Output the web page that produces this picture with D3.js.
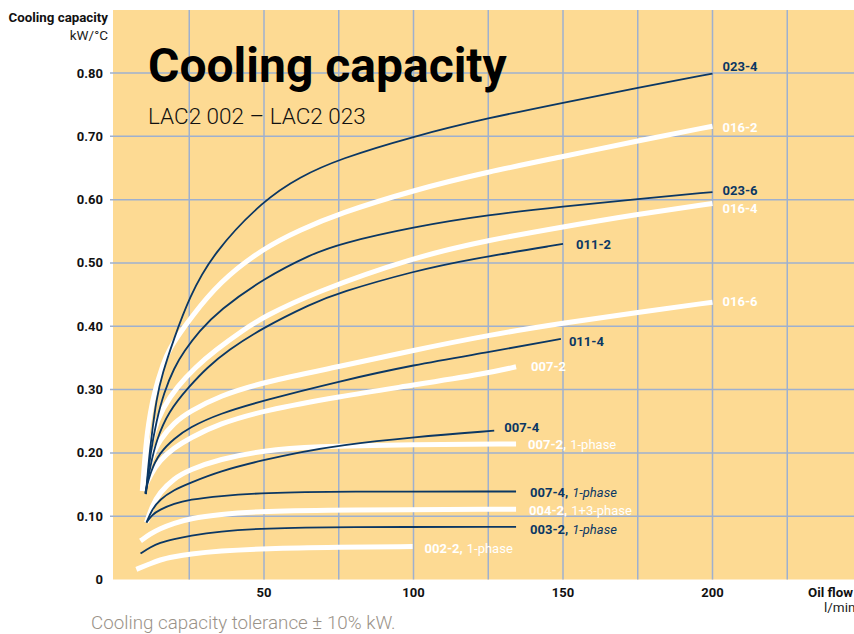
<!DOCTYPE html>
<html>
<head>
<meta charset="utf-8">
<script src="https://cdn.jsdelivr.net/npm/d3@7"></script>
<style>
  body { margin: 0; background: #fff; }
  svg { display: block; font-family: Roboto, "Noto Sans", sans-serif; }
  .tick-lbl { font-size: 13px; font-weight: 700; fill: #111; }
</style>
</head>
<body>
<svg id="chart" width="854" height="634"></svg>
<script>
(function() {

	// DATA (flow l/min, capacity kW/°C)
	var c023_4 = [[10.5,0.135],[11.5,0.19],[12.5,0.23],[14,0.285],[16,0.325],[19.7,0.378],[25,0.446],[33,0.516],[50,0.60],[62,0.636],[75,0.664],[100,0.70],[125,0.729],[150,0.753],[175,0.777],[200,0.799]];
	var c016_2 = [[9.3,0.14],[10,0.185],[11,0.235],[12,0.263],[13,0.29],[16.3,0.342],[18.6,0.366],[22,0.39],[25,0.41],[35,0.47],[50,0.524],[62,0.552],[75,0.578],[100,0.615],[125,0.644],[150,0.668],[175,0.693],[200,0.716]];
	var c023_6 = [[10.5,0.135],[12,0.2],[14,0.25],[16.5,0.295],[20,0.335],[23.2,0.36],[28.3,0.392],[35,0.425],[50,0.476],[66,0.514],[75,0.53],[100,0.557],[125,0.576],[150,0.589],[175,0.601],[200,0.612]];
	var c016_4 = [[9.5,0.14],[11,0.19],[13,0.235],[16,0.27],[21,0.305],[27,0.335],[33.7,0.362],[43,0.394],[50,0.415],[66,0.452],[100,0.509],[125,0.536],[150,0.557],[175,0.577],[200,0.594]];
	var c011_2 = [[10.3,0.135],[12,0.18],[14,0.22],[18,0.265],[25,0.305],[31,0.335],[38,0.362],[49,0.396],[66,0.436],[75,0.453],[100,0.487],[119,0.506],[150,0.53]];
	var c016_6 = [[9.5,0.14],[12,0.19],[15,0.22],[20,0.248],[25,0.265],[35,0.29],[50,0.312],[75,0.336],[100,0.362],[125,0.386],[150,0.405],[175,0.422],[200,0.438]];
	var c011_4 = [[10.3,0.137],[12,0.17],[15,0.2],[20,0.223],[25,0.24],[35,0.262],[50,0.283],[75,0.313],[100,0.339],[125,0.359],[149.3,0.38]];
	var c007_2 = [[9.5,0.14],[12,0.165],[15,0.188],[20,0.208],[25,0.223],[35,0.246],[50,0.267],[75,0.289],[100,0.307],[125,0.326],[134.3,0.336]];
	var c007_2p = [[10.7,0.09],[12.5,0.115],[15,0.137],[20,0.16],[25,0.173],[35,0.19],[50,0.204],[66,0.21],[100,0.213],[134.3,0.214]];
	var c007_4 = [[10.7,0.09],[12.5,0.11],[15,0.126],[20,0.142],[25,0.152],[35,0.171],[50,0.189],[62,0.201],[75,0.212],[100,0.225],[127,0.235]];
	var c007_4p = [[10.7,0.09],[12.5,0.102],[15,0.11],[20,0.12],[25,0.126],[35,0.132],[50,0.137],[75,0.139],[134.3,0.139]];
	var c004_2 = [[8.7,0.061],[12,0.072],[15,0.08],[20,0.089],[25,0.096],[35,0.103],[50,0.108],[75,0.11],[134.3,0.111]];
	var c003_2 = [[8.7,0.041],[12,0.051],[15,0.058],[20,0.064],[25,0.069],[35,0.076],[50,0.081],[75,0.083],[134.3,0.083]];
	var c002_2 = [[7.3,0.016],[12,0.025],[15,0.031],[20,0.036],[25,0.04],[35,0.045],[50,0.049],[75,0.051],[99.7,0.052]];

	var series = [
		{ name: '023-4', note: '', color: 'navy', values: c023_4 },
		{ name: '016-2', note: '', color: 'white', values: c016_2 },
		{ name: '023-6', note: '', color: 'navy', values: c023_6 },
		{ name: '016-4', note: '', color: 'white', values: c016_4 },
		{ name: '011-2', note: '', color: 'navy', values: c011_2 },
		{ name: '016-6', note: '', color: 'white', values: c016_6 },
		{ name: '011-4', note: '', color: 'navy', values: c011_4 },
		{ name: '007-2', note: '', color: 'white', values: c007_2 },
		{ name: '007-4', note: '', color: 'navy', values: c007_4 },
		{ name: '007-2', note: '1-phase', color: 'white', values: c007_2p },
		{ name: '007-4', note: '1-phase', color: 'navy', values: c007_4p },
		{ name: '004-2', note: '1+3-phase', color: 'white', values: c004_2 },
		{ name: '003-2', note: '1-phase', color: 'navy', values: c003_2 },
		{ name: '002-2', note: '1-phase', color: 'white', values: c002_2 }
	];

	// label offsets from line end (layout only)
	var labelOffset = [[10,-3],[10,6],[10,3],[10,10],[13,5],[10,4],[8,7],[15,4],[10,1],[12,5],[14,6],[13,6],[14,7],[12,6]];

	var yTicks = [0, 0.1, 0.2, 0.3, 0.4, 0.5, 0.6, 0.7, 0.8];
	var xTicks = [50, 100, 150, 200];
	var xGrid = [25, 50, 75, 100, 125, 150, 175, 200, 225];

	var colors = { navy: '#0b3763', white: '#ffffff', bg: '#fdda93', grid: '#9eb0cf' };
	var plot = { left: 113, top: 10, right: 854, bottom: 579.5 };

	var svg = d3.select('#chart');

	var x = d3.scaleLinear().domain([0, 200]).range([114.5, 712.5]);
	var y = d3.scaleLinear().domain([0, 0.8]).range([579.5, 73]);

	svg.append('rect')
		.attr('x', plot.left)
		.attr('y', plot.top)
		.attr('width', plot.right - plot.left)
		.attr('height', plot.bottom - plot.top)
		.attr('fill', colors.bg);

	// grid
	svg.append('g').selectAll('line')
		.data(xGrid)
		.enter().append('line')
		.attr('x1', function(d) { return x(d); })
		.attr('x2', function(d) { return x(d); })
		.attr('y1', plot.top)
		.attr('y2', plot.bottom)
		.attr('stroke', colors.grid)
		.attr('stroke-width', 1.5);

	svg.append('g').selectAll('line')
		.data(yTicks.slice(1))
		.enter().append('line')
		.attr('x1', 110)
		.attr('x2', plot.right)
		.attr('y1', function(d) { return y(d); })
		.attr('y2', function(d) { return y(d); })
		.attr('stroke', colors.grid)
		.attr('stroke-width', 1.5);

	// axis labels
	svg.append('g').selectAll('text')
		.data(yTicks)
		.enter().append('text')
		.attr('class', 'tick-lbl')
		.attr('x', 103)
		.attr('y', function(d) { return y(d) + 4.5; })
		.attr('text-anchor', 'end')
		.text(function(d) { return d === 0 ? '0' : d3.format('.2f')(d); });

	svg.append('g').selectAll('text')
		.data(xTicks)
		.enter().append('text')
		.attr('class', 'tick-lbl')
		.attr('x', function(d) { return x(d); })
		.attr('y', 597)
		.attr('text-anchor', 'middle')
		.text(function(d) { return d; });

	svg.append('text').attr('x', 108).attr('y', 22).attr('text-anchor', 'end')
		.style('font-size', '13.3px').style('font-weight', 700).attr('fill', '#111')
		.text('Cooling capacity');
	svg.append('text').attr('x', 108).attr('y', 40).attr('text-anchor', 'end')
		.style('font-size', '13.5px').attr('fill', '#222')
		.text('kW/°C');
	svg.append('text').attr('x', 808).attr('y', 597)
		.style('font-size', '13.3px').style('font-weight', 700).attr('fill', '#111')
		.text('Oil flow');
	svg.append('text').attr('x', 824).attr('y', 612)
		.style('font-size', '13.5px').attr('fill', '#222')
		.text('l/min');

	// title
	svg.append('text').attr('x', 148).attr('y', 82)
		.style('font-size', '48px').style('font-weight', 700).attr('fill', '#000')
		.text('Cooling capacity');
	svg.append('text').attr('x', 148).attr('y', 124)
		.style('font-size', '22.5px').style('font-weight', 300).attr('fill', '#111')
		.text('LAC2 002 – LAC2 023');

	svg.append('text').attr('x', 91).attr('y', 629)
		.style('font-size', '18.8px').style('font-weight', 300).attr('fill', '#9a9288')
		.text('Cooling capacity tolerance ± 10% kW.');

	// curves
	var line = d3.line()
		.x(function(d) { return x(d[0]); })
		.y(function(d) { return y(d[1]); })
		.curve(d3.curveBasis);

	var order = series.filter(function(s) { return s.color === 'white'; })
		.concat(series.filter(function(s) { return s.color === 'navy'; }));

	svg.append('g').selectAll('path')
		.data(order)
		.enter().append('path')
		.attr('d', function(d) { return line(d.values); })
		.attr('fill', 'none')
		.attr('stroke', function(d) { return colors[d.color]; })
		.attr('stroke-width', function(d) { return d.color === 'white' ? 5 : 1.8; });

	// labels
	var lbl = svg.append('g').selectAll('text')
		.data(series)
		.enter().append('text')
		.attr('x', function(d, i) { return x(d.values[d.values.length - 1][0]) + labelOffset[i][0]; })
		.attr('y', function(d, i) { return y(d.values[d.values.length - 1][1]) + labelOffset[i][1]; })
		.attr('fill', function(d) { return colors[d.color]; })
		.style('font-size', '13px');

	lbl.append('tspan')
		.style('font-weight', 700)
		.text(function(d) { return d.note ? d.name + ',' : d.name; });

	lbl.filter(function(d) { return d.note; })
		.append('tspan')
		.attr('dx', 4)
		.style('font-style', function(d) { return d.color === 'navy' ? 'italic' : 'normal'; })
		.style('font-weight', 400)
		.text(function(d) { return d.note; });

})()
</script>
</body>
</html>
